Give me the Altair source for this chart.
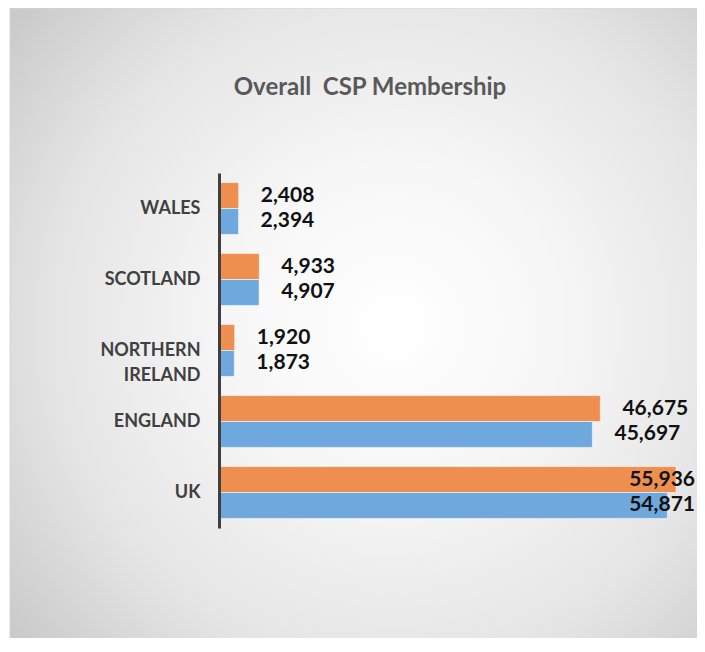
import altair as alt
import pandas as pd

# ---- data ----
categories = ["WALES", "SCOTLAND", "NORTHERN IRELAND", "ENGLAND", "UK"]
series_names = ["Series 2", "Series 1"]          # orange (top), blue (bottom)
series2_values = [2408, 4933, 1920, 46675, 55936]  # orange
series1_values = [2394, 4907, 1873, 45697, 54871]  # blue
title_text = "Overall\u00a0 CSP Membership"

rows = []
for c, v2, v1 in zip(categories, series2_values, series1_values):
    rows.append({"region": c, "series": series_names[0], "value": v2})
    rows.append({"region": c, "series": series_names[1], "value": v1})
df = pd.DataFrame(rows)

ORANGE = "#EE8F50"
BLUE = "#6FA8DC"
FONT = "Lato"

xscale = alt.Scale(domain=[0, 58500], nice=False, zero=True)
yscale = alt.Scale(paddingInner=0.27, paddingOuter=0.135)

label_expr = ("datum.label == 'NORTHERN IRELAND' ? "
              "['NORTHERN', 'IRELAND\u00a0\u00a0\u00a0'] : datum.label")

y_enc = alt.Y(
    "region:N", sort=categories, scale=yscale,
    axis=alt.Axis(title=None, ticks=False, labelPadding=19,
                  domainColor="#404040", domainWidth=3, zindex=1,
                  labelFont=FONT, labelFontSize=18, labelFontWeight="bold",
                  labelColor="#404040", labelLineHeight=25,
                  labelExpr=label_expr, grid=False),
)
yoff_enc = alt.YOffset("series:N", sort=series_names,
                       scale=alt.Scale(paddingInner=0, paddingOuter=0))
color_enc = alt.Color("series:N",
                      scale=alt.Scale(domain=series_names, range=[ORANGE, BLUE]),
                      legend=None)

gradient = alt.RadialGradient(
    gradient="radial",
    stops=[
        alt.GradientStop(offset=0.0, color="#ffffff"),
        alt.GradientStop(offset=0.3, color="#f7f7f7"),
        alt.GradientStop(offset=0.65, color="#e5e5e5"),
        alt.GradientStop(offset=1.0, color="#c4c4c4"),
    ],
    x1=0.55, y1=0.5, x2=0.55, y2=0.5, r1=0, r2=0.75,
)

bg = alt.Chart(pd.DataFrame({"k": [0]})).mark_rect(
    fill=gradient, stroke="#d6d6d6", strokeWidth=1
).encode(
    x=alt.value(-209), x2=alt.value(490), y=alt.value(-165), y2=alt.value(470)
)

title = alt.Chart(pd.DataFrame({"t": [title_text]})).mark_text(
    font=FONT, fontSize=24, fontWeight="bold", color="#595959",
    align="center", baseline="alphabetic"
).encode(
    text="t:N", x=alt.value(151), y=alt.value(-78)
)

bars = alt.Chart(df).mark_bar(
    stroke="#ffffff", strokeOpacity=0.55, strokeWidth=1
).encode(
    x=alt.X("value:Q", scale=xscale, axis=None),
    y=y_enc,
    yOffset=yoff_enc,
    color=color_enc,
)

labels = alt.Chart(df).transform_calculate(
    lx="min(datum.value + 2700, 50200)"
).mark_text(
    font=FONT, fontSize=21, fontWeight="bold", color="#111111",
    align="left", baseline="middle"
).encode(
    x=alt.X("lx:Q", scale=xscale, axis=None),
    y=y_enc,
    yOffset=yoff_enc,
    text=alt.Text("value:Q", format=","),
)

chart = alt.layer(bg, title, bars, labels).properties(
    width=478, height=355,
    autosize=alt.AutoSizeParams(type="none"),
    padding={"left": 211, "top": 165, "right": 0, "bottom": 110},
).configure_view(stroke=None)

chart.save("out.html", embed_options={"renderer": "svg", "actions": False})
